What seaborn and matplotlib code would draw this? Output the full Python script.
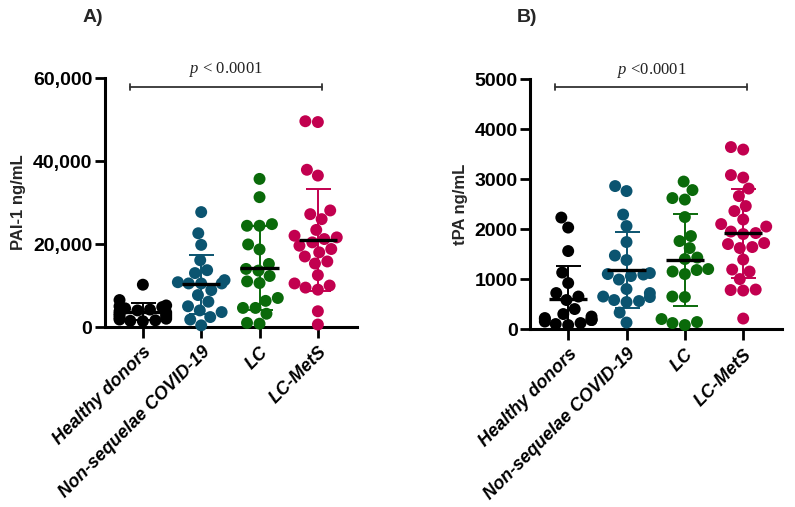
import numpy as np
import pandas as pd
from matplotlib import pyplot as plt
from matplotlib.ticker import FuncFormatter
import seaborn as sns

sns.set_style("ticks")
plt.rcParams['font.family'] = ['Liberation Sans', 'DejaVu Sans']
plt.rcParams['mathtext.fontset'] = 'custom'
plt.rcParams['mathtext.it'] = 'Liberation Serif:italic'
plt.rcParams['mathtext.rm'] = 'Liberation Serif'

groups = ['Healthy donors', 'Non-sequelae COVID-19', 'LC', 'LC-MetS']
colors = ['#000000', '#0b5470', '#0a6a0a', '#c2004f']

# PAI-1 ng/mL
pai_healthy = [10200, 6500, 5200, 5000, 4800, 4500, 4200, 4000, 3800, 3500,
               3200, 3000, 2800, 2500, 2200, 2000, 1800, 1600, 1500, 1400]
pai_nonseq = [27700, 22600, 19800, 16100, 13700, 13000, 11300, 10800, 10500, 10500,
              10500, 8900, 7700, 6100, 5000, 3600, 4000, 2400, 1800, 400]
pai_lc = [35700, 31300, 24800, 24400, 24400, 19900, 18700, 15200, 14000, 13600,
          12300, 11000, 10600, 7000, 6300, 4600, 4600, 3200, 1000, 800]
pai_lcmets = [49600, 49400, 37900, 36500, 28100, 27200, 26000, 23400, 22000, 21600,
              21200, 20400, 19600, 18800, 18000, 17000, 15800, 15300, 12500, 10500,
              10000, 9500, 9000, 3800, 600]

# tPA ng/mL
tpa_healthy = [2230, 2030, 1560, 1130, 920, 720, 650, 580, 400, 300,
               250, 220, 200, 200, 180, 180, 150, 120, 100, 80]
tpa_nonseq = [2860, 2760, 2290, 2060, 1740, 1470, 1380, 1120, 1100, 1090,
              1060, 990, 800, 720, 650, 640, 580, 560, 540, 330, 130]
tpa_lc = [2950, 2780, 2620, 2590, 2240, 1860, 1760, 1620, 1430, 1400,
          1200, 1180, 1150, 1100, 650, 640, 200, 140, 120, 80]
tpa_lcmets = [3640, 3590, 3080, 3030, 2810, 2660, 2460, 2360, 2190, 2100,
              2050, 1950, 1920, 1900, 1720, 1700, 1640, 1620, 1390, 1190,
              1150, 1000, 790, 780, 770, 210]


def make_df(lists):
    rows = []
    for g, vals in zip(groups, lists):
        for v in vals:
            rows.append((g, v))
    return pd.DataFrame(rows, columns=['group', 'value'])


def draw_panel(ax, df, ylabel, ymax, yticks, fmt, bracket_y, ptext, text_y):
    sns.swarmplot(data=df, x='group', y='value', hue='group', order=groups,
                  hue_order=groups, palette=colors, size=8.6, linewidth=0,
                  legend=False, ax=ax, clip_on=False, zorder=3)
    stats = df.groupby('group', sort=False)['value'].agg(['mean', 'std'])
    for i, g in enumerate(groups):
        m = stats.loc[g, 'mean']
        s = stats.loc[g, 'std']
        ax.errorbar(i, m, yerr=s, fmt='none', ecolor=colors[i], elinewidth=1.4,
                    capsize=9, capthick=1.4, zorder=2)
        ax.hlines(m, i - 0.33, i + 0.33, color='black', lw=2.4, zorder=4)

    ax.set_xlim(-0.65, 3.67)
    ax.set_ylim(0, ymax)
    ax.set_yticks(yticks)
    ax.yaxis.set_major_formatter(FuncFormatter(fmt))
    ax.set_xlabel('')
    ax.set_ylabel(ylabel, fontsize=12, fontweight='bold', labelpad=5)
    ax.set_xticks(range(len(groups)))
    ax.set_xticklabels(groups, rotation=45, ha='right', rotation_mode='anchor',
                       fontsize=13, fontweight='bold', fontstyle='italic')
    for lab in ax.get_yticklabels():
        lab.set_fontweight('bold')
        lab.set_fontsize(14)
    ax.tick_params(axis='y', length=7, width=2, pad=2, colors='black')
    ax.tick_params(axis='x', length=8, width=2, pad=4, colors='black')
    sns.despine(ax=ax)
    for sp in ['left', 'bottom']:
        ax.spines[sp].set_linewidth(2.2)
        ax.spines[sp].set_color('black')

    # significance bracket
    d = ymax * 0.012
    ax.plot([-0.22, 3.07], [bracket_y, bracket_y], color='#333333', lw=1.3, clip_on=False)
    for xe in [-0.22, 3.07]:
        ax.plot([xe, xe], [bracket_y - d, bracket_y + d], color='#333333', lw=1.3, clip_on=False)
    ax.text(1.43, text_y, ptext, ha='center', va='center', fontsize=12,
            family='Liberation Serif', color='#222222')


fig = plt.figure(figsize=(7.95, 5.07), dpi=100)
axA = fig.add_axes([0.132, 0.355, 0.317, 0.491])
axB = fig.add_axes([0.667, 0.351, 0.317, 0.493])

dfA = make_df([pai_healthy, pai_nonseq, pai_lc, pai_lcmets])
dfB = make_df([tpa_healthy, tpa_nonseq, tpa_lc, tpa_lcmets])

draw_panel(axA, dfA, 'PAI-1 ng/mL', 60000, [0, 20000, 40000, 60000],
           lambda v, p: f'{int(v):,}', 57800, r'$p$ < 0.0001', 62000)
draw_panel(axB, dfB, 'tPA ng/mL', 5000, [0, 1000, 2000, 3000, 4000, 5000],
           lambda v, p: f'{int(v)}', 4840, r'$p$ <0.0001', 5180)

fig.text(83 / 795, 1 - 17 / 507, 'A)', fontsize=14, fontweight='bold', va='center')
fig.text(517 / 795, 1 - 17 / 507, 'B)', fontsize=14, fontweight='bold', va='center')

fig.savefig('out.png', dpi=100)
